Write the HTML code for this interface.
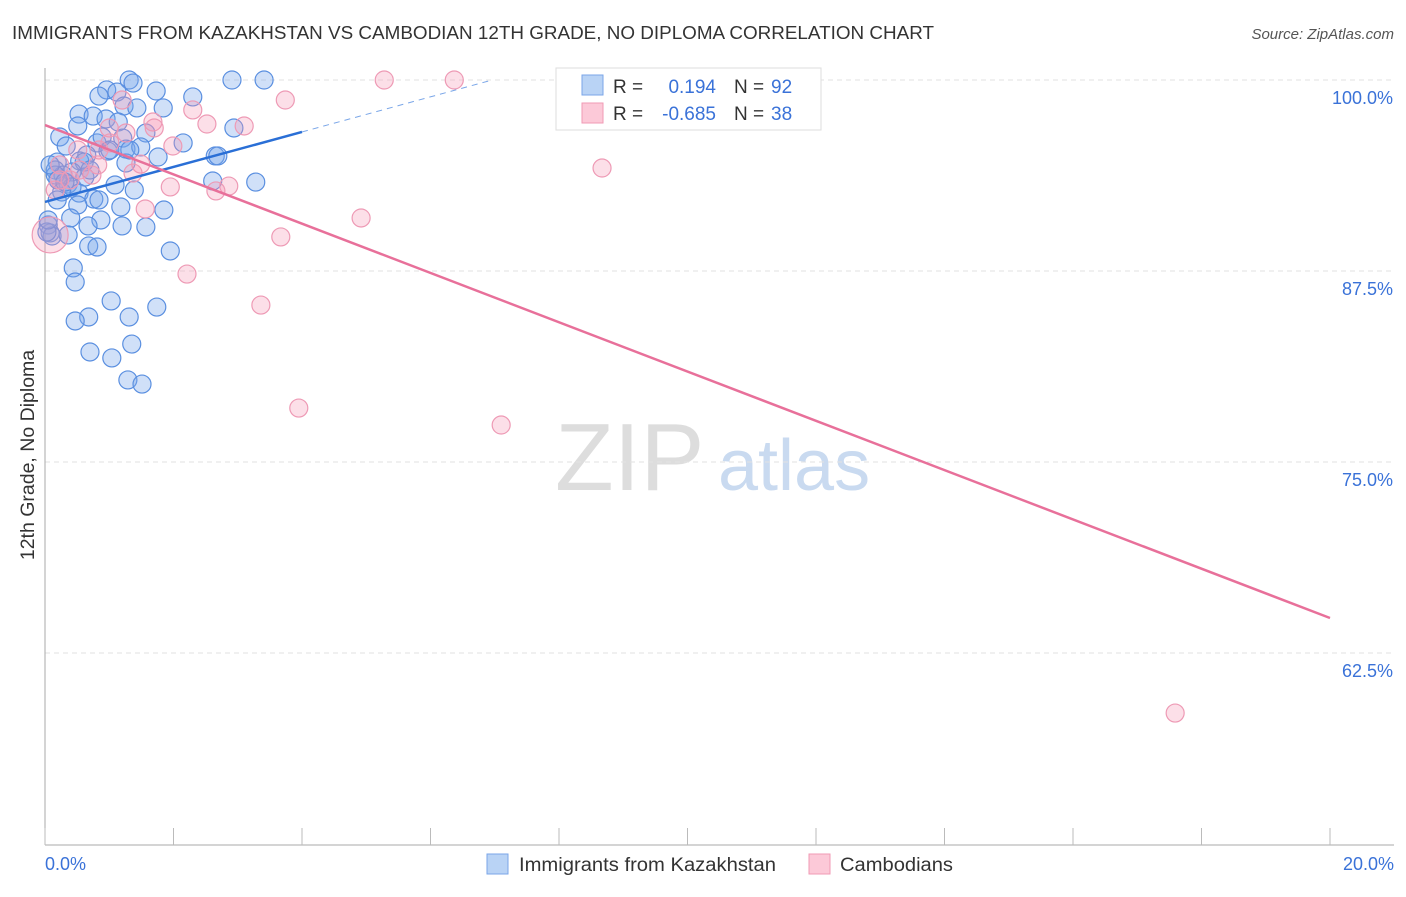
<!DOCTYPE html>
<html><head><meta charset="utf-8"><style>
body{margin:0;background:#fff;font-family:"Liberation Sans",sans-serif;}
svg text{font-family:"Liberation Sans",sans-serif;}
</style></head><body>
<svg id="chart" width="1406" height="892" viewBox="0 0 1406 892" xmlns="http://www.w3.org/2000/svg">
<text x="12" y="39" font-size="18" fill="#333" textLength="922" lengthAdjust="spacingAndGlyphs">IMMIGRANTS FROM KAZAKHSTAN VS CAMBODIAN 12TH GRADE, NO DIPLOMA CORRELATION CHART</text>
<text x="1394" y="39" font-size="15" fill="#555" text-anchor="end" font-style="italic">Source: ZipAtlas.com</text>
<g>
<text x="555" y="490" font-size="96" fill="#ddd" font-family="Liberation Serif,serif">ZIP</text>
<text x="718" y="490" font-size="72" fill="#c9daf0">atlas</text>
</g>
<g id="grid"></g>
<g id="axes"></g>
<g id="points"></g>
<g id="lines"></g>
<text transform="translate(34,455) rotate(-90)" font-size="19.5" fill="#333" text-anchor="middle">12th Grade, No Diploma</text>
<g>
<rect x="556" y="68" width="265" height="62" fill="#fff" stroke="#ddd"/>
<rect x="582" y="75" width="21" height="20" fill="#b9d3f5" stroke="#7aa6e8"/>
<rect x="582" y="103" width="21" height="20" fill="#fcc9d8" stroke="#f09ab4"/>
<text x="613" y="93" font-size="19" fill="#333">R =</text>
<text x="716" y="93" font-size="19" fill="#3a72d8" text-anchor="end">0.194</text>
<text x="734" y="93" font-size="19" fill="#333">N =</text>
<text x="771" y="93" font-size="19" fill="#3a72d8">92</text>
<text x="613" y="120" font-size="19" fill="#333">R =</text>
<text x="716" y="120" font-size="19" fill="#3a72d8" text-anchor="end">-0.685</text>
<text x="734" y="120" font-size="19" fill="#333">N =</text>
<text x="771" y="120" font-size="19" fill="#3a72d8">38</text>
</g>
<g>
<rect x="487" y="854" width="21" height="20" fill="#b9d3f5" stroke="#7aa6e8"/>
<text x="519" y="871" font-size="19" fill="#333" textLength="257" lengthAdjust="spacingAndGlyphs">Immigrants from Kazakhstan</text>
<rect x="809" y="854" width="21" height="20" fill="#fcc9d8" stroke="#f09ab4"/>
<text x="840" y="871" font-size="19" fill="#333" textLength="113" lengthAdjust="spacingAndGlyphs">Cambodians</text>
</g>
</svg>
<script>
const xTickLabels=["0.0%","20.0%"];
const yTicks=[100,87.5,75,62.5];
const blueX=[1.31,1.37,2.91,3.41,0.96,1.12,1.73,0.84,2.30,1.23,1.43,1.84,0.53,0.75,0.95,1.14,0.51,2.94,1.57,0.23,1.21,2.15,0.33,0.81,0.98,1.26,1.49,1.76,2.65,2.69,0.65,0.54,0.19,0.61,1.26,0.16,0.42,0.28,0.16,0.62,2.61,3.28,0.36,0.42,1.39,0.26,0.53,0.76,0.84,0.19,1.18,1.85,0.51,0.40,0.87,0.67,1.20,1.57,0.05,0.08,0.11,0.36,0.68,0.81,1.95,0.44,0.47,1.03,1.74,0.68,0.47,1.31,1.35,0.70,1.04,1.29,1.51,0.03,0.05,0.08,0.20,0.31,0.89,1.32,1.01,0.70,1.09];
const blueY=[100,99.8,100,100,99.35,99.21,99.28,98.95,98.89,98.30,98.17,98.17,97.77,97.64,97.45,97.25,96.99,96.86,96.53,96.27,96.20,95.88,95.68,95.88,95.35,95.48,95.62,94.96,95.03,95.03,95.09,94.70,94.63,94.63,94.57,94.11,93.98,93.78,93.78,93.65,93.39,93.32,93.19,93.00,92.80,92.67,92.60,92.21,92.15,92.15,91.69,91.49,91.82,90.97,90.84,90.45,90.45,90.38,90.51,89.99,89.79,89.86,89.14,89.07,88.81,87.70,86.78,85.54,85.14,84.49,84.23,84.49,82.72,82.20,81.81,80.37,80.10,90.05,90.84,94.44,93.46,93.32,96.27,95.42,95.42,94.11,93.13];
const pinkX=[5.28,6.37,3.74,1.20,2.30,1.68,2.52,3.10,1.00,1.26,1.70,1.99,1.01,0.84,0.51,0.23,0.82,1.49,1.37,0.73,0.23,8.67,1.95,2.86,2.66,1.56,4.92,3.67,0.08,2.21,3.36,3.95,7.10,17.59,0.54,0.16,0.39];
const pinkY=[100,100,98.69,98.69,98.04,97.25,97.12,96.99,96.86,96.53,96.86,95.68,95.88,95.42,95.42,94.44,94.44,94.50,93.91,93.78,93.46,94.24,93.00,93.06,92.74,91.56,90.97,89.73,89.86,87.30,85.27,78.53,77.42,58.57,94.11,92.80,93.46];
const blueTrend=[[0,92.02],[4,96.6]];
const blueTrendDash=[[4,96.6],[6.96,100]];
const pinkTrend=[[0,97.05],[20,64.79]];
const NS="http://www.w3.org/2000/svg";
const X=v=>45+v/20*1285;
const Y=v=>80+(100-v)/12.5*191;
function mk(t,a,p){const e=document.createElementNS(NS,t);for(const k in a)e.setAttribute(k,a[k]);p.appendChild(e);return e;}
const grid=document.getElementById('grid'),axes=document.getElementById('axes'),pts=document.getElementById('points'),lines=document.getElementById('lines');
yTicks.forEach(t=>{
 const l=mk('line',{x1:45,x2:1394,y1:Y(t),y2:Y(t),stroke:'#e2e2e2','stroke-dasharray':'5,4'},grid);
 
 
 const tx=mk('text',{x:1393,y:Y(t)+24,'font-size':18,fill:'#3a72d8','text-anchor':'end'},axes);
 tx.textContent=t.toFixed(1)+'%';
 
 
});
mk('line',{x1:45,x2:45,y1:68,y2:845,stroke:'#aaa'},axes);
mk('line',{x1:45,x2:1394,y1:845,y2:845,stroke:'#aaa'},axes);
for(let i=0;i<=10;i++){mk('line',{x1:X(i*2),x2:X(i*2),y1:828,y2:845,stroke:'#bbb'},axes);}
const xl0=mk('text',{x:45,y:870,'font-size':18,fill:'#3a72d8'},axes);xl0.textContent=xTickLabels[0];


const xl1=mk('text',{x:1394,y:870,'font-size':18,fill:'#3a72d8','text-anchor':'end'},axes);xl1.textContent=xTickLabels[1];


blueX.forEach((v,i)=>{
 const c=mk('circle',{cx:X(v),cy:Y(blueY[i]),r:9,fill:'rgba(120,165,235,0.35)',stroke:'#5a8fe0','stroke-width':1.2},pts);
 
 
});
pinkX.forEach((v,i)=>{
 const c=mk('circle',{cx:X(v),cy:Y(pinkY[i]),r:v<0.1?18:9,fill:'rgba(245,150,180,0.3)',stroke:'#ee9ab5','stroke-width':1.2},pts);
 
 
});
const b=mk('line',{x1:X(blueTrend[0][0]),y1:Y(blueTrend[0][1]),x2:X(blueTrend[1][0]),y2:Y(blueTrend[1][1]),stroke:'#2a6fd6','stroke-width':2.5},lines);


const bd=mk('line',{x1:X(blueTrendDash[0][0]),y1:Y(blueTrendDash[0][1]),x2:X(blueTrendDash[1][0]),y2:Y(blueTrendDash[1][1]),stroke:'#7aa6e8','stroke-width':1,'stroke-dasharray':'6,5'},lines);


const p=mk('line',{x1:X(pinkTrend[0][0]),y1:Y(pinkTrend[0][1]),x2:X(pinkTrend[1][0]),y2:Y(pinkTrend[1][1]),stroke:'#e8709a','stroke-width':2.5},lines);


</script>
</body></html>
